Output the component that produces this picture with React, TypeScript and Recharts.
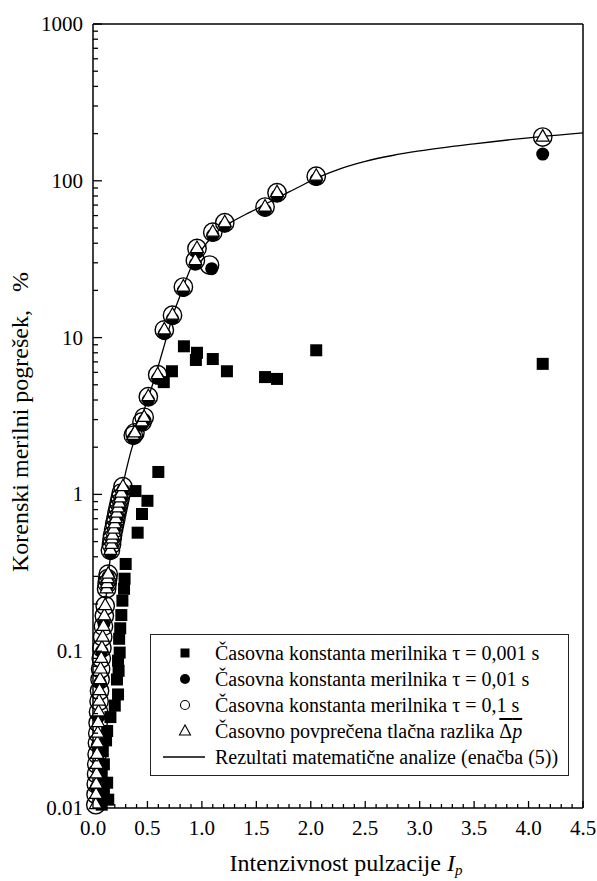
import React from 'react';
import { ComposedChart, Scatter, Line, XAxis, YAxis, ReferenceLine, Legend, Label } from 'recharts';

const FONT = "'Liberation Serif', 'Times New Roman', Times, serif";

// axis ticks
const xTicks = [
  0, 0.1, 0.2, 0.3, 0.4, 0.5, 0.6, 0.7, 0.8, 0.9, 1, 1.1, 1.2, 1.3, 1.4, 1.5, 1.6, 1.7, 1.8, 1.9, 2,
  2.1, 2.2, 2.3, 2.4, 2.5, 2.6, 2.7, 2.8, 2.9, 3, 3.1, 3.2, 3.3, 3.4, 3.5, 3.6, 3.7, 3.8, 3.9, 4,
  4.1, 4.2, 4.3, 4.4, 4.5,
];
const xLabels = [0, 0.5, 1, 1.5, 2, 2.5, 3, 3.5, 4, 4.5];
const yTicks = [
  0.01, 0.02, 0.03, 0.04, 0.05, 0.06, 0.07, 0.08, 0.09,
  0.1, 0.2, 0.3, 0.4, 0.5, 0.6, 0.7, 0.8, 0.9,
  1, 2, 3, 4, 5, 6, 7, 8, 9,
  10, 20, 30, 40, 50, 60, 70, 80, 90,
  100, 200, 300, 400, 500, 600, 700, 800, 900, 1000,
];
const yLabels = [0.01, 0.1, 1, 10, 100, 1000];

// tau = 0,001 s (filled squares)
const tau001 = [
  [0.835, 8.8], [0.955, 8.0], [0.945, 7.2], [1.1, 7.3], [1.23, 6.1], [1.58, 5.6], [1.69, 5.45],
  [2.05, 8.3], [4.13, 6.8], [0.725, 6.1], [0.65, 5.2], [0.6, 1.39], [0.5, 0.91], [0.39, 1.05],
  [0.45, 0.75], [0.41, 0.57], [0.3, 0.36], [0.29, 0.29], [0.285, 0.25], [0.27, 0.21], [0.26, 0.17],
  [0.25, 0.14], [0.24, 0.12], [0.245, 0.098], [0.23, 0.087], [0.235, 0.075], [0.22, 0.066],
  [0.23, 0.053], [0.2, 0.045], [0.16, 0.038], [0.13, 0.031], [0.12, 0.027], [0.09, 0.023],
  [0.1, 0.019], [0.08, 0.016], [0.13, 0.0145], [0.1, 0.0125], [0.14, 0.0113], [0.08, 0.0105],
];

// tau = 0,01 s (filled circles)
const tau01 = [
  [0.03, 0.0135], [0.04, 0.025], [0.05, 0.038], [0.065, 0.063], [0.08, 0.1], [0.1, 0.15],
  [0.13, 0.26], [0.14, 0.3], [0.16, 0.42], [0.18, 0.52], [0.2, 0.62], [0.22, 0.72], [0.24, 0.84],
  [0.26, 0.97], [0.275, 1.07], [0.37, 2.28], [0.385, 2.36], [0.45, 2.78], [0.47, 2.97],
  [0.508, 4.0], [0.594, 5.5], [0.655, 10.6], [0.73, 13.2], [0.83, 20], [0.94, 29.5], [0.955, 35],
  [1.09, 27.5], [1.1, 45], [1.21, 51.5], [1.58, 65], [1.69, 80], [2.05, 102], [4.13, 148],
];

// tau = 0,1 s (open circles)
const tau1 = [
  [0.026, 0.0105], [0.028, 0.0122], [0.03, 0.0142], [0.033, 0.0165], [0.035, 0.019], [0.038, 0.022],
  [0.041, 0.026], [0.044, 0.03], [0.047, 0.035], [0.051, 0.041], [0.056, 0.048], [0.06, 0.056],
  [0.065, 0.066], [0.07, 0.077], [0.076, 0.09], [0.082, 0.105], [0.089, 0.123], [0.096, 0.144],
  [0.104, 0.168], [0.112, 0.195], [0.125, 0.25], [0.13, 0.27], [0.135, 0.29], [0.14, 0.31],
  [0.16, 0.44], [0.17, 0.48], [0.175, 0.52], [0.18, 0.55], [0.19, 0.6], [0.2, 0.65], [0.21, 0.7],
  [0.22, 0.76], [0.23, 0.82], [0.24, 0.88], [0.25, 0.95], [0.26, 1.02], [0.275, 1.12],
  [0.37, 2.38], [0.385, 2.47], [0.45, 2.9], [0.47, 3.1], [0.508, 4.2], [0.594, 5.8], [0.655, 11.2],
  [0.73, 13.9], [0.83, 21], [0.94, 31], [0.955, 37], [1.07, 29], [1.1, 47], [1.21, 54], [1.58, 68],
  [1.69, 84], [2.05, 107], [4.13, 190],
];

// time-averaged pressure difference (open triangles)
const avgDp = [
  [0.026, 0.0105], [0.028, 0.0122], [0.03, 0.0142], [0.033, 0.0165], [0.035, 0.019], [0.038, 0.022],
  [0.041, 0.026], [0.044, 0.03], [0.047, 0.035], [0.051, 0.041], [0.056, 0.048], [0.06, 0.056],
  [0.065, 0.066], [0.07, 0.077], [0.076, 0.09], [0.082, 0.105], [0.089, 0.123], [0.096, 0.144],
  [0.104, 0.168], [0.112, 0.195], [0.125, 0.25], [0.13, 0.27], [0.135, 0.29], [0.14, 0.31],
  [0.16, 0.44], [0.17, 0.48], [0.175, 0.52], [0.18, 0.55], [0.19, 0.6], [0.2, 0.65], [0.21, 0.7],
  [0.22, 0.76], [0.23, 0.82], [0.24, 0.88], [0.25, 0.95], [0.26, 1.02], [0.275, 1.12],
  [0.37, 2.38], [0.385, 2.47], [0.45, 2.9], [0.47, 3.1], [0.508, 4.2], [0.594, 5.8], [0.655, 11.2],
  [0.73, 13.9], [0.83, 21], [0.94, 31], [0.955, 37], [1.1, 47], [1.21, 54], [1.58, 68],
  [1.69, 84], [2.05, 107], [4.13, 190],
];

// results of the mathematical analysis, eq. (5)
const model = [
  [0.026, 0.0105], [0.05, 0.039], [0.075, 0.087], [0.1, 0.155], [0.125, 0.24], [0.15, 0.35],
  [0.2, 0.62], [0.25, 0.97], [0.3, 1.38], [0.35, 1.9], [0.4, 2.45], [0.45, 3.15], [0.5, 4.0],
  [0.55, 5.1], [0.6, 6.6], [0.65, 8.7], [0.7, 11.5], [0.75, 15], [0.8, 18.5], [0.85, 23],
  [0.9, 28], [1.0, 36.5], [1.1, 44.5], [1.2, 51], [1.3, 56], [1.4, 61], [1.5, 66], [1.6, 72],
  [1.7, 78], [1.8, 85], [1.9, 92], [2.0, 100], [2.25, 118], [2.5, 133], [2.75, 145], [3.0, 155],
  [3.5, 172], [4.0, 188], [4.5, 202],
];

const legendLabels = [
  'Časovna konstanta merilnika τ = 0,001 s',
  'Časovna konstanta merilnika τ = 0,01 s',
  'Časovna konstanta merilnika τ = 0,1 s',
  'Časovno povprečena tlačna razlika ',
  'Rezultati matematične analize (enačba (5))',
];

const toPts = (a: number[][]) => a.map(([x, y]) => ({ x, y }));

const near = (list: number[], v: number) => list.some((t) => Math.abs(t - v) < 1e-9);

const XTick = (props: any) => {
  const { x, y, payload } = props;
  const major = near(xLabels, payload.value);
  return (
    <g>
      <line x1={x} x2={x} y1={y} y2={y - (major ? 7 : 4)} stroke="#000" strokeWidth={1.3} />
      {major && (
        <text x={x} y={y + 27} textAnchor="middle" fontFamily={FONT} fontSize={21} fill="#000">
          {payload.value.toFixed(1)}
        </text>
      )}
    </g>
  );
};

const YTick = (props: any) => {
  const { x, y, payload } = props;
  const major = near(yLabels, payload.value);
  return (
    <g>
      <line x1={x} x2={x + (major ? 9 : 5)} y1={y} y2={y} stroke="#000" strokeWidth={1.3} />
      {major && (
        <text x={x - 10} y={y + 7} textAnchor="end" fontFamily={FONT} fontSize={21} fill="#000">
          {String(payload.value)}
        </text>
      )}
    </g>
  );
};

const XTitle = () => (
  <text x={346} y={871} textAnchor="middle" fontFamily={FONT} fontSize={24} fill="#000">
    Intenzivnost pulzacije <tspan fontStyle="italic">I</tspan>
    <tspan fontStyle="italic" fontSize={15} dy={4}>p</tspan>
  </text>
);

const YTitle = () => (
  <text
    x={28}
    y={422}
    transform="rotate(-90, 28, 422)"
    textAnchor="middle"
    fontFamily={FONT}
    fontSize={24}
    fill="#000"
  >
    {'Korenski merilni pogrešek,\u00a0\u00a0\u00a0%'}
  </text>
);

const Square = (p: any) => <rect x={p.cx - 6} y={p.cy - 6} width={12} height={12} fill="#000" />;
const Dot = (p: any) => <circle cx={p.cx} cy={p.cy} r={6.5} fill="#000" />;
const Ring = (p: any) => <circle cx={p.cx} cy={p.cy} r={9.2} fill="none" stroke="#000" strokeWidth={1.4} />;
const Tri = (p: any) => (
  <polygon
    points={`${p.cx},${p.cy - 7.5} ${p.cx - 6.5},${p.cy + 4} ${p.cx + 6.5},${p.cy + 4}`}
    fill="#fff"
    stroke="#000"
    strokeWidth={1.2}
  />
);

const legendMarker = (i: number) => {
  const cx = 34;
  const cy = 13;
  if (i === 0) return <rect x={cx - 4.5} y={cy - 4.5} width={9} height={9} fill="#000" />;
  if (i === 1) return <circle cx={cx} cy={cy} r={5} fill="#000" />;
  if (i === 2) return <circle cx={cx} cy={cy} r={4.5} fill="none" stroke="#000" strokeWidth={1.1} />;
  if (i === 3)
    return (
      <polygon
        points={`${cx},${cy - 6} ${cx - 5.5},${cy + 4} ${cx + 5.5},${cy + 4}`}
        fill="#fff"
        stroke="#000"
        strokeWidth={1.1}
      />
    );
  return <line x1={12} x2={54} y1={cy} y2={cy} stroke="#000" strokeWidth={1.3} />;
};

const LegendBox = () => (
  <div
    style={{
      width: 419,
      height: 142,
      boxSizing: 'border-box',
      border: '1px solid #222',
      paddingTop: 5,
      fontFamily: FONT,
      fontSize: 20,
      lineHeight: '26px',
      color: '#000',
      textAlign: 'left',
    }}
  >
    {legendLabels.map((label, i) => (
      <div key={i} style={{ display: 'flex', alignItems: 'center', height: 26, whiteSpace: 'nowrap' }}>
        <svg width={64} height={26} style={{ flex: 'none' }}>
          {legendMarker(i)}
        </svg>
        <span>
          {label}
          {i === 3 && (
            <span style={{ textDecoration: 'overline' }}>
              Δ<i>p</i>
            </span>
          )}
        </span>
      </div>
    ))}
  </div>
);

export default function App() {
  return (
    <div style={{ position: 'absolute', left: 0, top: 0, background: '#fff', fontFamily: FONT }}>
      <ComposedChart width={597} height={881} margin={{ top: 24, right: 14, left: 33, bottom: 33 }}>
        <XAxis
          type="number"
          dataKey="x"
          domain={[0, 4.5]}
          ticks={xTicks}
          interval={0}
          height={40}
          tickSize={0}
          tickMargin={0}
          tickLine={false}
          tick={<XTick />}
          axisLine={{ stroke: '#000', strokeWidth: 1.5 }}
        >
          <Label content={<XTitle />} />
        </XAxis>
        <YAxis
          type="number"
          dataKey="y"
          scale="log"
          domain={[0.01, 1000]}
          ticks={yTicks}
          interval={0}
          width={60}
          tickSize={0}
          tickMargin={0}
          tickLine={false}
          tick={<YTick />}
          axisLine={{ stroke: '#000', strokeWidth: 1.5 }}
        >
          <Label content={<YTitle />} />
        </YAxis>
        <ReferenceLine y={1000} stroke="#000" strokeWidth={1.5} />
        <ReferenceLine x={4.5} stroke="#000" strokeWidth={1.5} />
        <Scatter name="tau001" data={toPts(tau001)} dataKey="y" shape={Square} isAnimationActive={false} />
        <Scatter name="tau1" data={toPts(tau1)} dataKey="y" shape={Ring} isAnimationActive={false} />
        <Scatter name="tau01" data={toPts(tau01)} dataKey="y" shape={Dot} isAnimationActive={false} />
        <Scatter name="avg" data={toPts(avgDp)} dataKey="y" shape={Tri} isAnimationActive={false} />
        <Line
          data={toPts(model)}
          dataKey="y"
          type="monotone"
          stroke="#000"
          strokeWidth={1.3}
          dot={false}
          activeDot={false}
          isAnimationActive={false}
        />
        <Legend
          content={<LegendBox />}
          layout="vertical"
          align="center"
          verticalAlign="middle"
          wrapperStyle={{ left: 150, top: 634, width: 419, height: 142, bottom: 'auto', right: 'auto' }}
        />
      </ComposedChart>
    </div>
  );
}
